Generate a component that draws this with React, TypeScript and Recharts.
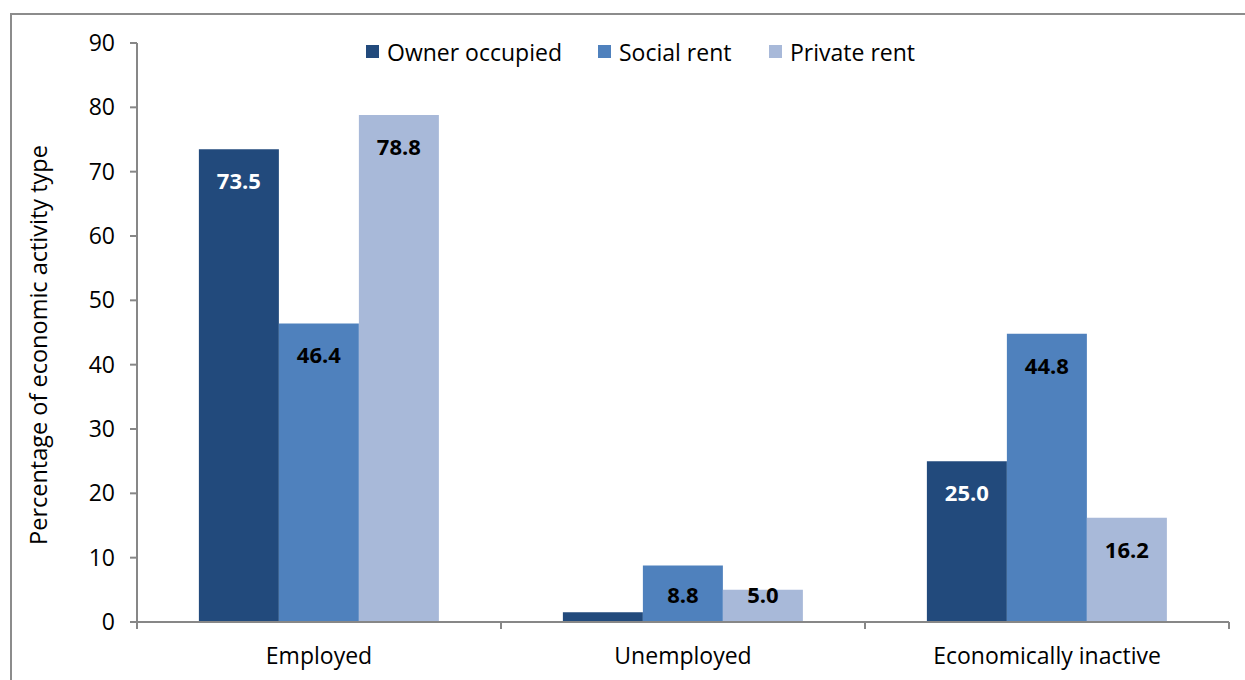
import React from 'react'
import { BarChart, Bar, XAxis, YAxis, Legend, LabelList } from 'recharts'

const categories = ['Employed', 'Unemployed', 'Economically inactive']
const ownerOccupied = [73.5, 1.5, 25.0]
const socialRent = [46.4, 8.8, 44.8]
const privateRent = [78.8, 5.0, 16.2]
const yTicks = [0, 10, 20, 30, 40, 50, 60, 70, 80, 90]

const data = categories.map((name, i) => ({
    name,
    owner: ownerOccupied[i],
    social: socialRent[i],
    private: privateRent[i],
}))

const FONT = '"Open Sans", "Noto Sans", sans-serif'
const AXIS = '#878787'

const series = [
    { key: 'owner', label: 'Owner occupied', color: '#224A7C', text: '#FFFFFF' },
    { key: 'social', label: 'Social rent', color: '#4F81BD', text: '#000000' },
    { key: 'private', label: 'Private rent', color: '#A8B9D9', text: '#000000' },
]

const makeLabel = (color: string) => (props: any) => {
    const { x, y, width, value, height } = props
    // too small to hold a label
    if (height < 20) return null
    const cy = Math.min(y + 31, y + height - 28)
    return (
        <text x={x + width / 2} y={cy} textAnchor="middle" dominantBaseline="central"
            fill={color} fontFamily={FONT} fontWeight={700} fontSize={22}>
            {Number(value).toFixed(1)}
        </text>
    )
}

const renderLegend = () => {
    const pos = [366, 598, 769]
    return (
        <svg width={1245} height={40} style={{ position: 'absolute', left: 0, top: 0, overflow: 'visible' }}>
            {series.map((s, i) => (
                <g key={s.key}>
                    <rect x={pos[i]} y={13} width={13} height={13} fill={s.color} />
                    <text x={pos[i] + 21} y={20} dominantBaseline="central" fontFamily={FONT}
                        fontSize={23} fill="#000">{s.label}</text>
                </g>
            ))}
        </svg>
    )
}

export default function App() {
    return (
        <div style={{ position: 'absolute', left: 0, top: 0, width: 1245, height: 680, background: '#fff', overflow: 'hidden' }}>
            <div style={{
                position: 'absolute', left: 10, top: 13, width: 1260, height: 700,
                border: '2px solid #8c8c8c', boxSizing: 'border-box',
            }} />
            <div style={{ position: 'absolute', left: 0, top: 0 }}>
                <BarChart width={1245} height={680} data={data}
                    margin={{ top: 43, right: 16, bottom: 18, left: 77 }}
                    barCategoryGap="17%" barGap={0}>
                    <XAxis dataKey="name" axisLine={{ stroke: AXIS, strokeWidth: 2 }}
                        tickLine={false} tick={{ fill: '#000', fontSize: 23, fontFamily: FONT }}
                        tickMargin={20} height={40} />
                    <YAxis domain={[0, 90]} ticks={yTicks} interval={0} width={60}
                        axisLine={{ stroke: AXIS, strokeWidth: 2 }}
                        tickLine={{ stroke: AXIS, strokeWidth: 2 }} tickSize={7} tickMargin={15}
                        tick={{ fill: '#000', fontSize: 23, fontFamily: FONT }} />
                    <Legend verticalAlign="top" content={renderLegend}
                        wrapperStyle={{ top: 32, left: 0, width: 1245 }} />
                    {series.map((s) => (
                        <Bar key={s.key} dataKey={s.key} name={s.label} fill={s.color}
                            isAnimationActive={false}>
                            <LabelList dataKey={s.key} content={makeLabel(s.text)} />
                        </Bar>
                    ))}
                </BarChart>
            </div>
            {/* category boundary ticks on x axis */}
            <svg width={1245} height={680} style={{ position: 'absolute', left: 0, top: 0, pointerEvents: 'none' }}>
                {[137, 501, 865, 1229].map((x) => (
                    <line key={x} x1={x} x2={x} y1={622} y2={629} stroke={AXIS} strokeWidth={2} />
                ))}
                <text transform="translate(38,345) rotate(-90)" textAnchor="middle" dominantBaseline="central"
                    fontFamily={FONT} fontSize={23.5} fill="#000">Percentage of economic activity type</text>
            </svg>
        </div>
    )
}
